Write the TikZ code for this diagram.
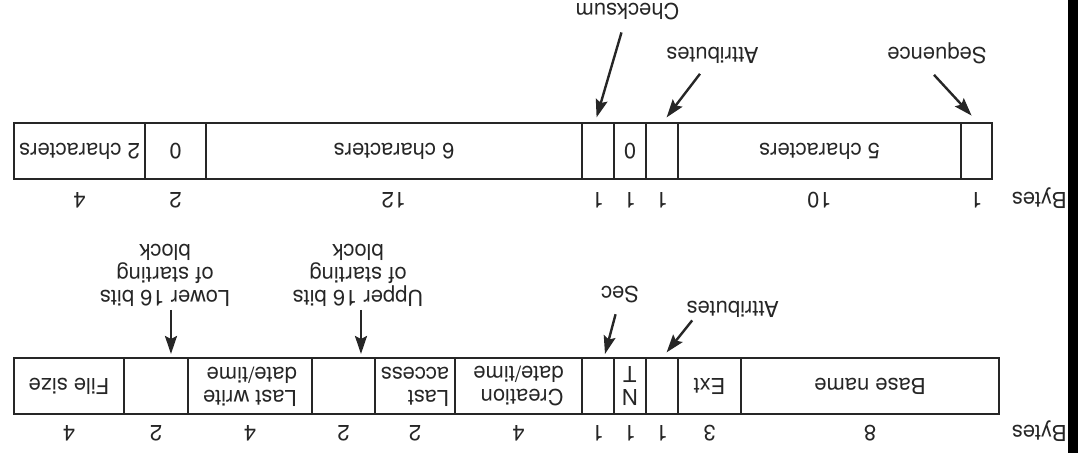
\documentclass[tikz,border=0pt]{standalone}
\usepackage{fontspec}
\setmainfont{TeX Gyre Heros}
\usetikzlibrary{calc,arrows.meta}

\begin{document}
\begin{tikzpicture}[x=1pt, y=1pt, rotate=180, transform shape,
    color=black!85, font=\fontsize{11}{11.5}\selectfont,
    >={Stealth[length=9pt, width=6pt, inset=1.5pt]},
    field/.style={draw, line width=1pt, minimum height=28pt, inner sep=0pt, align=left},
    num/.style={anchor=base, inner sep=0pt},
    lbl/.style={anchor=base, inner sep=0pt},
    note/.style={anchor=north, inner sep=0pt, align=center},
    arr/.style={->, line width=1.2pt}]
  \useasboundingbox (0,0) rectangle (539,226.5);
  \fill[black] (0,0) rectangle (5,226.5);

  % Nodes
  % Standard entry
  \node[field, minimum width=129pt] (name) at (104,193.2) {Base name};
  \node[field, minimum width=31.5pt] (ext) at (184.25,193.2) {Ext};
  \node[field, minimum width=16pt] (attr) at (208,193.2) {};
  \node[field, minimum width=16pt, align=center] (nt) at (224,193.2) {N\\T};
  \node[field, minimum width=16pt] (sec) at (240,193.2) {};
  \node[field, minimum width=63.5pt] (ctime) at (279.75,193.2) {Creation\\date/time};
  \node[field, minimum width=40pt] (atime) at (331.5,193.2) {Last\\access};
  \node[field, minimum width=31.5pt] (hiblk) at (367.25,193.2) {};
  \node[field, minimum width=62pt] (wtime) at (414,193.2) {Last write\\date/time};
  \node[field, minimum width=32pt] (loblk) at (461,193.2) {};
  \node[field, minimum width=55pt] (size) at (504.5,193.2) {File size};

  % Byte counts
  \node[lbl, anchor=base west] (bytesa) at (5.5,213) {Bytes};
  \node[num] (na) at (104,213) {8};
  \node[num] (nb) at (184.25,213) {3};
  \node[num] (nc) at (208,213) {1};
  \node[num] (nd) at (224,213) {1};
  \node[num] (ne) at (240,213) {1};
  \node[num] (nf) at (279.75,213) {4};
  \node[num] (ng) at (331.5,213) {2};
  \node[num] (nh) at (367.25,213) {2};
  \node[num] (ni) at (414,213) {4};
  \node[num] (nj) at (461,213) {2};
  \node[num] (nk) at (504.5,213) {4};

  % Long name entry
  \node[field, minimum width=15.5pt] (seq) at (50.75,75.5) {};
  \node[field, minimum width=141.5pt] (chara) at (129.25,75.5) {5 characters};
  \node[field, minimum width=16pt] (lattr) at (208,75.5) {};
  \node[field, minimum width=16pt] (zeroa) at (224,75.5) {0};
  \node[field, minimum width=16pt] (chk) at (240,75.5) {};
  \node[field, minimum width=188pt] (charb) at (342,75.5) {6 characters};
  \node[field, minimum width=30.5pt] (zerob) at (451.25,75.5) {0};
  \node[field, minimum width=65.5pt] (charc) at (499.25,75.5) {2 characters};

  % Byte counts
  \node[lbl, anchor=base west] (bytesb) at (5.5,96.5) {Bytes};
  \node[num] (ma) at (50.75,96.5) {1};
  \node[num] (mb) at (129.25,96.5) {10};
  \node[num] (mc) at (208,96.5) {1};
  \node[num] (md) at (224,96.5) {1};
  \node[num] (me) at (240,96.5) {1};
  \node[num] (mf) at (342,96.5) {12};
  \node[num] (mg) at (451.25,96.5) {2};
  \node[num] (mh) at (499.25,96.5) {4};

  % Labels
  \node[lbl] (secl) at (229,143.5) {Sec};
  \node[lbl] (attrl) at (172.6,151) {Attributes};
  \node[note] (hiblkl) at (360,153.5) {Upper 16 bits\\of starting\\block};
  \node[note] (loblkl) at (456.5,153.5) {Lower 16 bits\\of starting\\block};
  \node[lbl] (chkl) at (225.25,2) {Checksum};
  \node[lbl] (lattrl) at (182.75,24) {Attributes};
  \node[lbl] (seql) at (70.5,24) {Sequence};

  % Arrows
  \draw[arr] ($(secl.north)+(2.2,5.2)$) -- ($(sec.south)+(-3.5,-1.7)$);
  \draw[arr] ($(attrl.north)+(20.3,1)$) -- ($(attr.south)+(-2.3,-2.5)$);
  \draw[arr] ($(hiblkl.north)+(-1.5,1.5)$) -- ($(hiblk.south)+(-8.75,-1.7)$);
  \draw[arr] ($(loblkl.north)+(-3,1.5)$) -- ($(loblk.south)+(-7.5,-1.7)$);

  \draw[arr] ($(chkl.north)+(3,5.8)$) -- ($(chk.south)+(0.7,-2.3)$);
  \draw[arr] ($(lattrl.north)+(6.25,4.7)$) -- ($(lattr.south)+(-2.3,-2.3)$);
  \draw[arr] ($(seql.north)+(1.5,5)$) -- ($(seq.south)+(2.45,-3.2)$);

\end{tikzpicture}
\end{document}
